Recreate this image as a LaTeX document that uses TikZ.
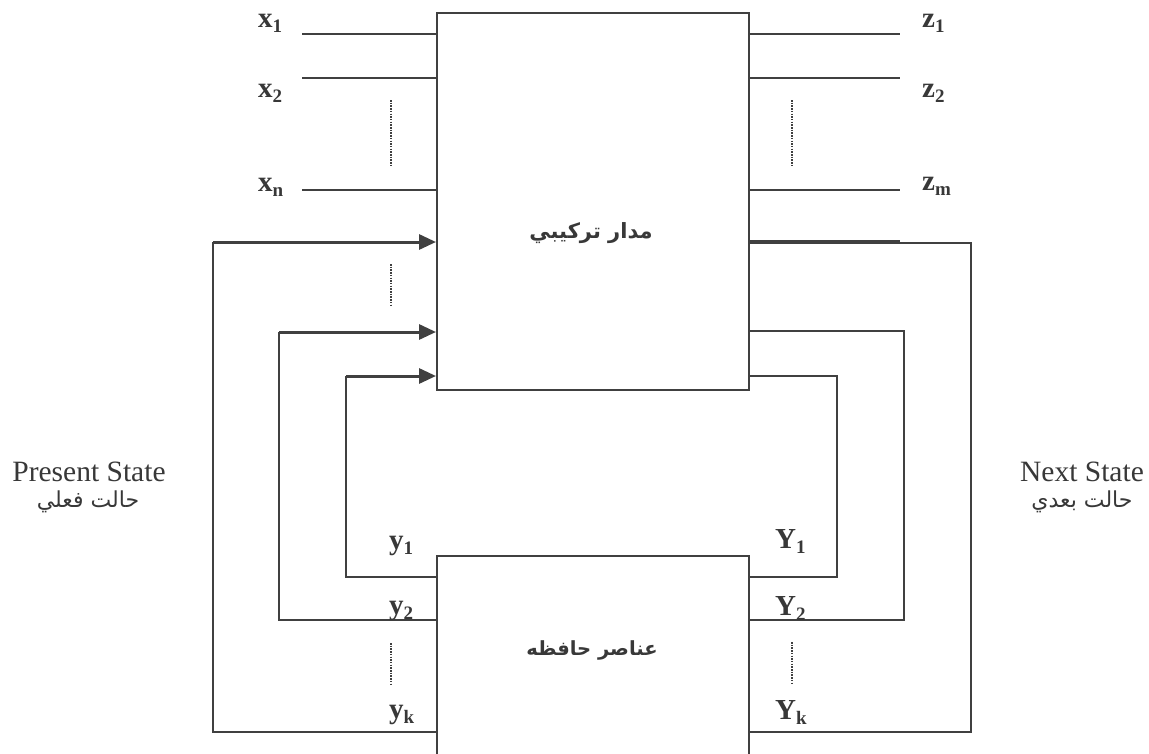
\documentclass[tikz,border=0pt]{standalone}
\usepackage{fontspec}
\setmainfont{Liberation Serif}
\newfontfamily\arabicfont[Script=Arabic]{DejaVu Sans}
\TeXXeTstate=1
\usetikzlibrary{arrows.meta}
\definecolor{ln}{HTML}{404040}
\definecolor{tx}{HTML}{383838}
\newcommand{\lab}[2]{{\fontsize{29}{29}\selectfont\bfseries #1\raisebox{-0.2em}{\fontsize{19}{19}\selectfont #2}}}
\tikzset{
  wire/.style={draw=ln, line width=2pt},
  arrw/.style={draw=ln, line width=3pt, -{Triangle[length=17pt,width=15pt]}},
  dots/.style={draw=ln, line width=1.6pt, dash pattern=on 1.5pt off 1.2pt},
  blk/.style={draw=ln, line width=2pt, fill=none, inner sep=0pt, anchor=north west},
  lbl/.style={text=tx, inner sep=0pt, anchor=base west},
  ttl/.style={text=tx, inner sep=0pt, font=\fontsize{29.5}{29.5}\selectfont},
  ar/.style={text=tx, inner sep=0pt},
}
\begin{document}
\begin{tikzpicture}[x=1pt,y=-1pt]
\useasboundingbox (0,0) rectangle (1149,753);
\clip (0,0) rectangle (1149,753);
\fill[white] (0,0) rectangle (1149,753);

% blocks
\node[blk, minimum width=312pt, minimum height=377pt] (comb) at (436,12) {};
\node[blk, minimum width=312pt, minimum height=240pt] (mem) at (436,555) {};
\node[ar] (combt) at (591,233) {\arabicfont\bfseries\fontsize{21}{21}\selectfont\beginR مدار تركيبي\endR};
\node[ar] (memt) at (592,650) {\arabicfont\bfseries\fontsize{19.5}{19.5}\selectfont\beginR عناصر حافظه\endR};

% inputs
\coordinate (i1) at (302,34);  \coordinate (i2) at (302,78);  \coordinate (in) at (302,190);
\draw[wire] (i1) -- (i1 -| comb.west);
\draw[wire] (i2) -- (i2 -| comb.west);
\draw[wire] (in) -- (in -| comb.west);
\node[lbl] (x1) at (258,27) {\lab{x}{1}};
\node[lbl] (x2) at (258,97) {\lab{x}{2}};
\node[lbl] (xn) at (258,191) {\lab{x}{n}};
\coordinate (dxa) at (391,100); \coordinate (dxb) at (391,165);
\draw[dots] (dxa) -- (dxb);

% outputs
\coordinate (o1) at (900,34);  \coordinate (o2) at (900,78);  \coordinate (om) at (900,190);
\coordinate (o4) at (900,241);
\draw[wire] (o1 -| comb.east) -- (o1);
\draw[wire] (o2 -| comb.east) -- (o2);
\draw[wire] (om -| comb.east) -- (om);
\draw[wire] (o4 -| comb.east) -- (o4);
\node[lbl] (z1) at (922,27) {\lab{z}{1}};
\node[lbl] (z2) at (922,97) {\lab{z}{2}};
\node[lbl] (zm) at (922,190) {\lab{z}{m}};
\coordinate (dza) at (792,100); \coordinate (dzb) at (792,165);
\draw[dots] (dza) -- (dzb);

% feedback loops, right side (next state)
\coordinate (ra1) at (837,376); \coordinate (rb1) at (837,577);
\coordinate (ra2) at (904,331); \coordinate (rb2) at (904,620);
\coordinate (ra3) at (971,243); \coordinate (rb3) at (971,732);
\draw[wire] (ra1 -| comb.east) -- (ra1) -- (rb1) -- (rb1 -| mem.east);
\draw[wire] (ra2 -| comb.east) -- (ra2) -- (rb2) -- (rb2 -| mem.east);
\draw[wire] (ra3 -| comb.east) -- (ra3) -- (rb3) -- (rb3 -| mem.east);

% feedback loops, left side (present state)
\coordinate (la1) at (346,376); \coordinate (lb1) at (346,577);
\coordinate (la2) at (279,332); \coordinate (lb2) at (279,620);
\coordinate (la3) at (213,242); \coordinate (lb3) at (213,732);
\draw[wire] (lb1 -| mem.west) -- (lb1) -- (la1);
\draw[wire] (lb2 -| mem.west) -- (lb2) -- (la2);
\draw[wire] (lb3 -| mem.west) -- (lb3) -- (la3);
\draw[arrw] (la1) -- (la1 -| comb.west);
\draw[arrw] (la2) -- (la2 -| comb.west);
\draw[arrw] (la3) -- (la3 -| comb.west);
\coordinate (dla) at (391,264); \coordinate (dlb) at (391,307);
\draw[dots] (dla) -- (dlb);

% state labels
\node[lbl] (y1) at (389,549) {\lab{y}{1}};
\node[lbl] (y2) at (389,614) {\lab{y}{2}};
\node[lbl] (yk) at (389,718) {\lab{y}{k}};
\node[lbl] (Y1) at (775,548) {\lab{Y}{1}};
\node[lbl] (Y2) at (775,615) {\lab{Y}{2}};
\node[lbl] (Yk) at (775,719) {\lab{Y}{k}};
\coordinate (dya) at (391,643); \coordinate (dyb) at (391,685);
\draw[dots] (dya) -- (dyb);
\coordinate (dYa) at (792,642); \coordinate (dYb) at (792,685);
\draw[dots] (dYa) -- (dYb);

% side titles
\node[ttl] (ps) at (89,472) {Present State};
\node[ar] (psa) at (88,502) {\arabicfont\fontsize{22}{22}\selectfont\beginR حالت فعلي\endR};
\node[ttl] (ns) at (1082,472) {Next State};
\node[ar] (nsa) at (1082,502) {\arabicfont\fontsize{22}{22}\selectfont\beginR حالت بعدي\endR};
\end{tikzpicture}
\end{document}
